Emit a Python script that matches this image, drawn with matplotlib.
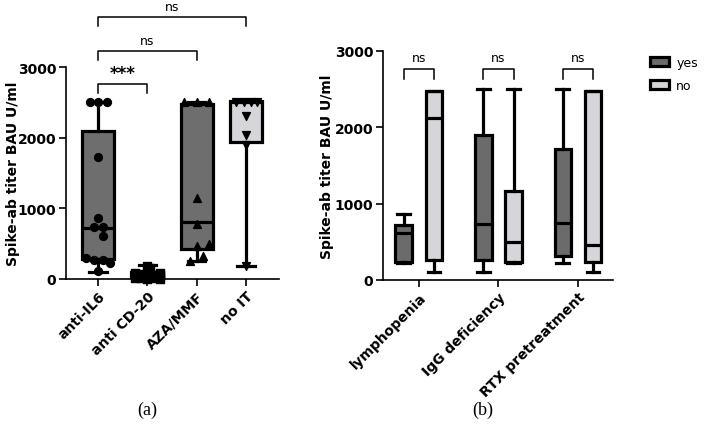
import matplotlib
matplotlib.use('Agg')
import matplotlib.pyplot as plt
from matplotlib.patches import Patch

plt.rcParams['font.family'] = ['DejaVu Sans']

# ---- panel (a) data ----
groups_a = ['anti-IL6', 'anti CD-20', 'AZA/MMF', 'no IT']
box_a = {
    'whislo': [100, 0, 250, 180],
    'q1': [280, 5, 420, 1940],
    'med': [720, 30, 800, 2500],
    'q3': [2100, 100, 2480, 2520],
    'whishi': [2500, 200, 2500, 2530],
}
colors_a = ['#6e6e6e', '#111111', '#6e6e6e', '#d6d6da']
markers_a = ['o', 's', '^', 'v']
# individual values and horizontal jitter (in category units)
pts_a = [
    [2500, 2500, 2500, 1730, 860, 740, 740, 610, 300, 270, 270, 230, 110],
    [190, 150, 90, 80, 70, 60, 50, 40, 30, 20, 10, 10, 5, 5, 40, 60],
    [2500, 2500, 2500, 1150, 780, 500, 470, 320, 260],
    [2500, 2500, 2500, 2500, 2300, 2040, 1890, 190],
]
jit_a = [
    [-0.17, 0.0, 0.18, 0.0, 0.0, -0.08, 0.1, 0.1, -0.25, -0.08, 0.1, 0.25, 0.0],
    [0.0, 0.05, -0.25, 0.25, -0.1, 0.1, -0.25, 0.25, 0.0, -0.15, 0.15, -0.25, 0.25, 0.0,
     -0.1, 0.15],
    [-0.25, 0.0, 0.25, 0.0, 0.0, 0.26, 0.0, 0.12, -0.13],
    [-0.2, -0.05, 0.1, 0.22, 0.0, 0.0, 0.0, 0.0],
]
# significance brackets: (i, j, height, label)
sig_a = [(0, 1, 2760, '***'), (0, 2, 3225, 'ns'), (0, 3, 3705, 'ns')]

# ---- panel (b) data ----
groups_b = ['lymphopenia', 'IgG deficiency', 'RTX pretreatment']
yes_b = {
    'whislo': [220, 100, 220],
    'q1': [240, 265, 310],
    'med': [610, 735, 750],
    'q3': [720, 1905, 1720],
    'whishi': [860, 2500, 2500],
}
no_b = {
    'whislo': [100, 220, 100],
    'q1': [265, 235, 235],
    'med': [2120, 500, 465],
    'q3': [2480, 1160, 2480],
    'whishi': [2480, 2500, 2480],
}
sig_b = [(0, 2760, 'ns'), (1, 2760, 'ns'), (2, 2760, 'ns')]

dark = '#6b6b6b'
light = '#d6d6da'
LW = 2.3
TICK_FS = 10
NS_FS = 9


def make_stats(d, n):
    return [{k: d[k][i] for k in ('whislo', 'q1', 'med', 'q3', 'whishi')} | {'fliers': []}
            for i in range(n)]


def style_axis(ax, label_x):
    for s in ('top', 'right'):
        ax.spines[s].set_visible(False)
    for s in ('left', 'bottom'):
        ax.spines[s].set_linewidth(1.2)
    ax.tick_params(width=1.2, length=5, pad=2)
    ax.set_ylim(0, 3000)
    ax.set_yticks([0, 1000, 2000, 3000])
    for lab in ax.get_yticklabels():
        lab.set_fontweight('bold')
        lab.set_fontsize(TICK_FS)
    ax.set_ylabel('Spike-ab titer BAU U/ml', fontsize=10, fontweight='bold')
    ax.yaxis.set_label_coords(label_x, 0.5)


fig = plt.figure(figsize=(7.04, 4.27), dpi=100)

# ---- (a) ----
ax1 = fig.add_axes([66 / 704, 1 - 280 / 427, 213 / 704, 212 / 427])
stats = make_stats(box_a, len(groups_a))
bp = ax1.bxp(stats, positions=range(len(groups_a)), widths=0.65, patch_artist=True,
             showfliers=False, capwidths=0.35,
             boxprops=dict(linewidth=LW, edgecolor='black'),
             medianprops=dict(color='black', linewidth=LW),
             whiskerprops=dict(color='black', linewidth=LW),
             capprops=dict(color='black', linewidth=LW))
for patch, c in zip(bp['boxes'], colors_a):
    patch.set_facecolor(c)
for i in range(len(groups_a)):
    xs = [i + j for j in jit_a[i]]
    ax1.scatter(xs, pts_a[i], marker=markers_a[i], s=32, color='black', zorder=5,
                clip_on=False)
ax1.set_xlim(-0.65, 3.67)
ax1.set_xticks(range(len(groups_a)))
ax1.set_xticklabels(groups_a, rotation=45, ha='right', rotation_mode='anchor',
                    fontweight='bold', fontsize=TICK_FS)
style_axis(ax1, -0.215)
for i, j, h, lab in sig_a:
    ax1.plot([i, i, j, j], [h - 130, h, h, h - 130], color='black', lw=1.1, clip_on=False)
    if lab == '***':
        ax1.text((i + j) / 2, h + 150, lab, ha='center', va='center', fontsize=12,
                 fontweight='bold')
    else:
        ax1.text((i + j) / 2, h + 105, lab, ha='center', va='baseline', fontsize=NS_FS)

# ---- (b) ----
ax2 = fig.add_axes([383 / 704, 1 - 281 / 427, 230 / 704, 229 / 427])
off = 0.19
bw = 0.21
for d, sign, col in ((yes_b, -1, dark), (no_b, 1, light)):
    st = make_stats(d, len(groups_b))
    pos = [i + sign * off for i in range(len(groups_b))]
    bp2 = ax2.bxp(st, positions=pos, widths=bw, patch_artist=True, showfliers=False,
                  capwidths=0.16,
                  boxprops=dict(linewidth=LW, edgecolor='black'),
                  medianprops=dict(color='black', linewidth=LW),
                  whiskerprops=dict(color='black', linewidth=LW),
                  capprops=dict(color='black', linewidth=LW))
    for patch in bp2['boxes']:
        patch.set_facecolor(col)
ax2.set_xlim(-0.45, 2.44)
ax2.set_xticks(range(len(groups_b)))
ax2.set_xticklabels(groups_b, rotation=45, ha='right', rotation_mode='anchor',
                    fontweight='bold', fontsize=TICK_FS)
style_axis(ax2, -0.215)
for i, h, lab in sig_b:
    ax2.plot([i - off, i - off, i + off, i + off], [h - 130, h, h, h - 130],
             color='black', lw=1.1, clip_on=False)
    ax2.text(i, h + 105, lab, ha='center', va='baseline', fontsize=NS_FS)

handles = [Patch(facecolor=dark, edgecolor='black', linewidth=LW, label='yes'),
           Patch(facecolor=light, edgecolor='black', linewidth=LW, label='no')]
fig.legend(handles=handles, loc='upper left', bbox_to_anchor=(650 / 704, 1 - 57 / 427),
           frameon=False, fontsize=9, handlelength=1.5, handleheight=0.8,
           labelspacing=0.8, handletextpad=0.6, borderaxespad=0, borderpad=0)

fig.text(147 / 704, 1 - 410 / 427, '(a)', ha='center', va='center', fontsize=13,
         family='Liberation Serif')
fig.text(483 / 704, 1 - 410 / 427, '(b)', ha='center', va='center', fontsize=13,
         family='Liberation Serif')

fig.savefig('out.png', dpi=100)
